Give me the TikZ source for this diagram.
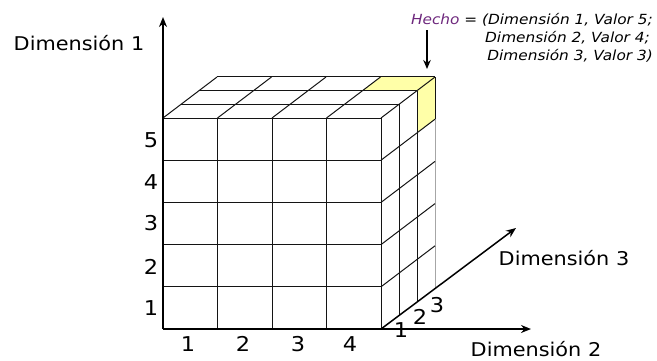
\documentclass[tikz,border=0pt]{standalone}
\usepackage{fontspec}
\setmainfont{DejaVu Sans}[FakeStretch=1.1]
\usetikzlibrary{arrows.meta}
\definecolor{hechocol}{RGB}{110,40,125}
\definecolor{cellyellow}{RGB}{255,255,168}
\definecolor{gridcol}{RGB}{20,20,20}
\begin{document}
\begin{tikzpicture}[x=1bp,y=-1bp,
  gridline/.style={draw=gridcol,line width=1bp},
  backline/.style={draw=black!35,line width=1bp},
  axisline/.style={draw=black,line width=1.8bp,-{Stealth[length=10bp,width=8bp]}},
  lbl/.style={inner sep=0pt,font=\fontsize{19}{22}\selectfont},
  num/.style={inner sep=0pt,font=\fontsize{20.5}{24}\selectfont},
  hecho/.style={inner sep=0pt,anchor=base east,font=\itshape\fontsize{14}{18}\selectfont}]
\useasboundingbox (0,0) rectangle (657,360);
% yellow cell (fact)
\fill[cellyellow] (362.5,90.7) -- (417,90.7) -- (435,77) -- (380.5,77) -- cycle;
\fill[cellyellow] (417,90.7) -- (435,77) -- (435,119.2) -- (417,132.9) -- cycle;
% front face
\foreach \i in {1,...,4} \draw[gridline] ({163+54.5*\i},118) -- ({163+54.5*\i},329);
\foreach \j in {0,...,4} \draw[gridline] (163,{118+42.2*\j}) -- (381,{118+42.2*\j});
% top face
\foreach \k in {1,2,3} \draw[gridline] ({163+18*\k},{118-13.67*\k}) -- ({381+18*\k},{118-13.67*\k});
\foreach \i in {0,...,4} \draw[gridline] ({163+54.5*\i},118) -- ++(54,-41);
% right face
\foreach \k in {1,2} \draw[gridline] ({381+18*\k},{118-13.67*\k}) -- ({381+18*\k},{329-13.67*\k});
\draw[gridline] (435,77) -- (435,119.2);
\draw[backline] (435,119.2) -- (435,288);
\foreach \j in {1,...,4} \draw[gridline] (381,{118+42.2*\j}) -- ++(54,-41);
% axes
\coordinate (origin) at (163,329);
\coordinate (corner) at (381,329);
\coordinate (d1end) at (163,17);
\coordinate (d2end) at (531,329);
\coordinate (d3end) at (516,228);
\draw[axisline] (origin) -- (d1end);
\draw[axisline] (origin) -- (d2end);
\draw[axisline,line width=1.5bp] (corner) -- (d3end);
% axis labels
\node[lbl] (dim1) at (79,43) {Dimensión 1};
\node[lbl] (dim2) at (536,349) {Dimensión 2};
\node[lbl] (dim3) at (564,258) {Dimensión 3};
% value labels
\node[num] (v1) at (151,308) {1};
\node[num] (v2) at (151,267) {2};
\node[num] (v3) at (151,223) {3};
\node[num] (v4) at (151,182) {4};
\node[num] (v5) at (151,140) {5};
\node[num] (h1) at (188,344) {1};
\node[num] (h2) at (243,344) {2};
\node[num] (h3) at (298,344) {3};
\node[num] (h4) at (350,344) {4};
\node[num] (p1) at (401,330) {1};
\node[num] (p2) at (420,317) {2};
\node[num] (p3) at (437,305) {3};
% fact annotation
\node[hecho] (hl1) at (653,24) {\textcolor{hechocol}{Hecho} = (Dimensión 1, Valor 5;};
\node[hecho] (hl2) at (650,42) {Dimensión 2, Valor 4;};
\node[hecho] (hl3) at (653,60) {Dimensión 3, Valor 3)};
\coordinate (fa) at (427,30);
\coordinate (fb) at (427,69);
\draw[draw=black,line width=1.6bp,-{Stealth[length=9bp,width=7.5bp]}] (fa) -- (fb);
\end{tikzpicture}
\end{document}
